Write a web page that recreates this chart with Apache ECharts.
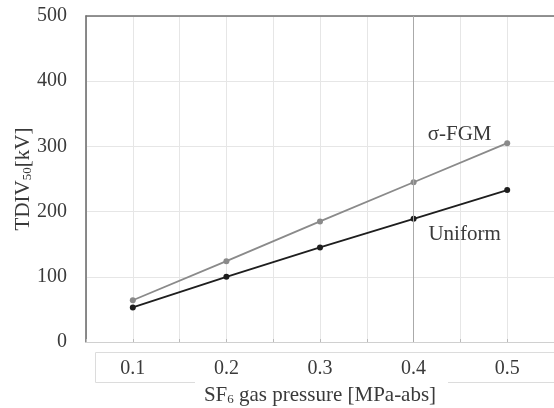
<!DOCTYPE html>
<html>
<head>
<meta charset="utf-8">
<script src="https://cdn.jsdelivr.net/npm/echarts@6/dist/echarts.min.js"></script>
<style>
  html, body { margin: 0; padding: 0; background: #fff; }
  #chart { width: 554px; height: 408px; }
</style>
</head>
<body>
<div id="chart"></div>
<script>
// data
var pressures = [0.1, 0.2, 0.3, 0.4, 0.5];
var fgmValues = [64, 124, 185, 245, 305];
var uniformValues = [53, 100, 145, 189, 233];
var xTicks = [0.1, 0.2, 0.3, 0.4, 0.5];

var serif = '"Liberation Serif", "DejaVu Serif", serif';
var txt = '#3a3a3a';

function pairs(xs, ys) {
    return xs.map(function (x, i) { return [x, ys[i]]; });
}

function nameLabel(text, offset) {
    return {
        show: true,
        position: 'inside',
        formatter: text,
        offset: offset,
        fontFamily: serif,
        fontSize: 21,
        color: txt
    };
}

var fgmData = pairs(pressures, fgmValues);
var uniData = pairs(pressures, uniformValues);

// put the series name label near the 0.4 point
fgmData[3] = { value: fgmData[3], label: nameLabel('σ-FGM', [46, -48]) };
uniData[3] = { value: uniData[3], label: nameLabel('Uniform', [51, 16]) };

var chart = echarts.init(document.getElementById('chart'));

var option = {
    animation: false,
    grid: { left: 86, right: 0, top: 16, bottom: 66, containLabel: false, outerBoundsMode: 'none' },
    textStyle: { fontFamily: serif },
    xAxis: [{
        type: 'value',
        min: 0.05,
        max: 0.55,
        interval: 0.05,
        axisLine: { show: true, lineStyle: { color: '#d0d0d0' } },
        axisTick: { show: true, length: 3, inside: true, lineStyle: { color: '#bbb' } },
        splitLine: { show: true, lineStyle: { color: '#e6e6e6' } },
        axisLabel: {
            margin: 17,
            fontSize: 20,
            color: txt,
            fontFamily: serif,
            formatter: function (v) {
                var r = Math.round(v * 100) / 100;
                for (var i = 0; i < xTicks.length; i++) {
                    if (Math.abs(xTicks[i] - r) < 1e-6) return r.toFixed(1);
                }
                return '';
            }
        },
        name: '{a|SF}{s|6}{a| gas pressure [MPa-abs]}',
        nameLocation: 'middle',
        nameGap: 42,
        nameMoveOverlap: false,
        nameTextStyle: {
            rich: {
                a: { fontSize: 21, color: txt, fontFamily: serif },
                s: { fontSize: 13, color: txt, fontFamily: serif, verticalAlign: 'bottom', padding: [9, 0, 0, 0] }
            }
        }
    }, {
        type: 'value',
        position: 'top',
        min: 0.05,
        max: 0.55,
        axisLine: { show: true, lineStyle: { color: '#707070', width: 1.5 } },
        axisTick: { show: false },
        axisLabel: { show: false },
        splitLine: { show: false }
    }],
    yAxis: {
        type: 'value',
        min: 0,
        max: 500,
        interval: 100,
        axisLine: { show: true, lineStyle: { color: '#666', width: 1.5 } },
        axisTick: { show: false },
        splitLine: { show: true, lineStyle: { color: '#e6e6e6' } },
        axisLabel: { margin: 19, fontSize: 20, color: txt, fontFamily: serif },
        name: '{a|TDIV}{s|50}{a|[kV]}',
        nameLocation: 'middle',
        nameGap: 52,
        nameMoveOverlap: false,
        nameRotate: 90,
        nameTextStyle: {
            rich: {
                a: { fontSize: 21, color: txt, fontFamily: serif },
                s: { fontSize: 13, color: txt, fontFamily: serif, verticalAlign: 'bottom', padding: [9, 0, 0, 0] }
            }
        }
    },
    series: [{
        name: 'σ-FGM',
        type: 'line',
        data: fgmData,
        symbol: 'circle',
        symbolSize: 6,
        lineStyle: { color: '#8a8a8a', width: 1.8 },
        itemStyle: { color: '#8a8a8a' },
        label: { show: false, fontSize: 21, color: txt, fontFamily: serif },
        markLine: {
            silent: true,
            symbol: 'none',
            label: { show: false },
            lineStyle: { color: '#aaa', type: 'solid', width: 1 },
            data: [{ xAxis: 0.4 }]
        },
        z: 3
    }, {
        name: 'Uniform',
        type: 'line',
        data: uniData,
        symbol: 'circle',
        symbolSize: 6,
        lineStyle: { color: '#1e1e1e', width: 1.8 },
        itemStyle: { color: '#1e1e1e' },
        label: { show: false, fontSize: 21, color: txt, fontFamily: serif },
        z: 4
    }],
    graphic: [{
        type: 'polyline',
        shape: { points: [[195, 382.5], [95.5, 382.5], [95.5, 352.5], [554, 352.5]] },
        style: { stroke: '#dcdcdc', fill: null, lineWidth: 1 },
        silent: true
    }, {
        type: 'line',
        shape: { x1: 448, y1: 382.5, x2: 554, y2: 382.5 },
        style: { stroke: '#dcdcdc', lineWidth: 1 },
        silent: true
    }]
};

chart.setOption(option);
</script>
</body>
</html>
